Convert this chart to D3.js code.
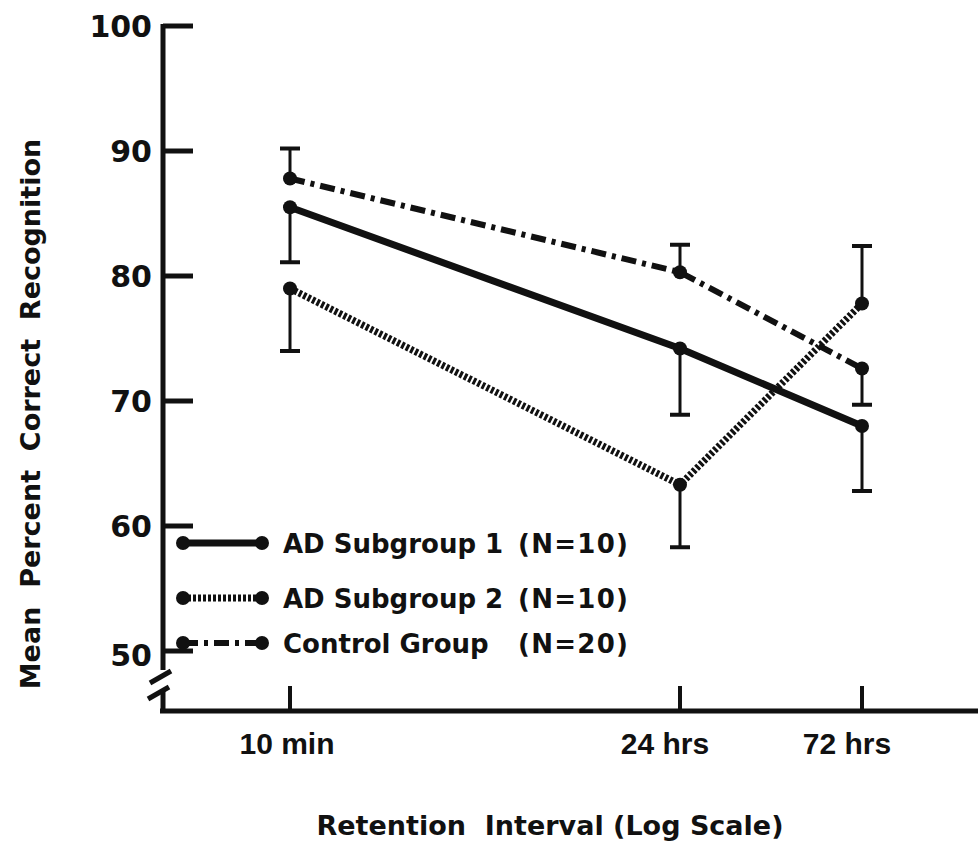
<!DOCTYPE html>
<html>
<head>
<meta charset="utf-8">
<script src="https://cdn.jsdelivr.net/npm/d3@7"></script>
<style>
  html, body { margin: 0; padding: 0; background: #fff; }
  svg { display: block; }
  text { fill: #111; }
</style>
</head>
<body>
<div id="chart"></div>
<script>
// Retention intervals (x axis, drawn on a stretched log scale)
const intervalLabels = ['10 min', '24 hrs', '72 hrs'];
const intervalMinutes = [10, 1440, 4320];

// Y axis ticks
const yTicks = [50, 60, 70, 80, 90, 100];

// Group means (percent correct) and one-sided error bars (+ up / - down)
const subgroup1Means = [85.5, 74.2, 68.0];
const subgroup1Err = [-4.4, -5.3, -5.2];
const subgroup2Means = [79.0, 63.3, 77.8];
const subgroup2Err = [-5.0, -5.0, 4.6];
const controlMeans = [87.8, 80.3, 72.6];
const controlErr = [2.4, 2.2, -2.9];

// Legend labels
const groupNames = ['AD Subgroup 1', 'AD Subgroup 2', 'Control Group'];
const groupSizes = ['(N=10)', '(N=10)', '(N=20)'];

const W = 978, H = 853;
const INK = '#111';

const series = [
  { name: groupNames[0], n: groupSizes[0], means: subgroup1Means, err: subgroup1Err, dash: null, width: 7 },
  { name: groupNames[1], n: groupSizes[1], means: subgroup2Means, err: subgroup2Err, dash: '3,2', width: 7 },
  { name: groupNames[2], n: groupSizes[2], means: controlMeans, err: controlErr, dash: '15,6,4,6', width: 6 }
];

const svg = d3.select('#chart').append('svg')
  .attr('width', W)
  .attr('height', H);

const x = d3.scaleLog()
  .domain(intervalMinutes)
  .range([290, 680, 862]);

const y = d3.scaleLinear()
  .domain([50, 100])
  .range([651, 26]);

const axisX0 = 163;   // y axis position
const axisY0 = 711;   // x axis position

// --- Y axis with break ---
svg.append('line')
  .attr('x1', axisX0).attr('x2', axisX0)
  .attr('y1', y(100) - 2).attr('y2', 670)
  .attr('stroke', INK).attr('stroke-width', 5);
svg.append('line')
  .attr('x1', axisX0).attr('x2', axisX0)
  .attr('y1', 690).attr('y2', axisY0)
  .attr('stroke', INK).attr('stroke-width', 5);
// break slashes
[[150, 683, 171, 671], [148, 699, 169, 687]].forEach(s => {
  svg.append('line')
    .attr('x1', s[0]).attr('y1', s[1]).attr('x2', s[2]).attr('y2', s[3])
    .attr('stroke', INK).attr('stroke-width', 5);
});

svg.append('g').selectAll('line')
  .data(yTicks)
  .enter().append('line')
  .attr('x1', axisX0).attr('x2', axisX0 + 30)
  .attr('y1', d => y(d)).attr('y2', d => y(d))
  .attr('stroke', INK).attr('stroke-width', 5);

svg.append('g').selectAll('text')
  .data(yTicks)
  .enter().append('text')
  .attr('x', 152)
  .attr('y', d => y(d) + 11 + (d === 50 ? 4 : 0))
  .attr('text-anchor', 'end')
  .attr('font-family', 'DejaVu Sans')
  .attr('font-weight', 'bold')
  .attr('font-size', 30)
  .text(d => d);

// --- X axis ---
svg.append('line')
  .attr('x1', axisX0 - 3).attr('x2', W)
  .attr('y1', axisY0).attr('y2', axisY0)
  .attr('stroke', INK).attr('stroke-width', 5);

svg.append('g').selectAll('line')
  .data(intervalMinutes)
  .enter().append('line')
  .attr('x1', d => x(d)).attr('x2', d => x(d))
  .attr('y1', axisY0).attr('y2', 686)
  .attr('stroke', INK).attr('stroke-width', 4);

svg.append('g').selectAll('text')
  .data(intervalMinutes)
  .enter().append('text')
  .attr('x', (d, i) => x(d) + (i === 0 ? -3 : -15))
  .attr('y', 754)
  .attr('text-anchor', 'middle')
  .attr('font-family', 'Liberation Sans, Arial, sans-serif')
  .attr('font-weight', 'bold')
  .attr('font-size', 30)
  .text((d, i) => intervalLabels[i]);

// --- Axis titles ---
svg.append('text')
  .attr('x', 550)
  .attr('y', 835)
  .attr('text-anchor', 'middle')
  .attr('font-family', 'DejaVu Sans')
  .attr('font-weight', 'bold')
  .attr('font-size', 27)
  .style('white-space', 'pre')
  .text('Retention  Interval (Log Scale)');

svg.append('text')
  .attr('transform', 'translate(40,414) rotate(-90)')
  .attr('text-anchor', 'middle')
  .attr('font-family', 'DejaVu Sans')
  .attr('font-weight', 'bold')
  .attr('font-size', 27)
  .style('white-space', 'pre')
  .text('Mean  Percent  Correct  Recognition');

// --- Series ---
const line = d3.line()
  .x((d, i) => x(intervalMinutes[i]))
  .y(d => y(d));

series.forEach(s => {
  const g = svg.append('g');

  // error bars
  s.means.forEach((m, i) => {
    const cx = x(intervalMinutes[i]);
    const yEnd = y(m + s.err[i]);
    g.append('line')
      .attr('x1', cx).attr('x2', cx)
      .attr('y1', y(m)).attr('y2', yEnd)
      .attr('stroke', INK).attr('stroke-width', 3);
    g.append('line')
      .attr('x1', cx - 10).attr('x2', cx + 10)
      .attr('y1', yEnd).attr('y2', yEnd)
      .attr('stroke', INK).attr('stroke-width', 4);
  });

  g.append('path')
    .datum(s.means)
    .attr('d', line)
    .attr('fill', 'none')
    .attr('stroke', INK)
    .attr('stroke-width', s.width)
    .attr('stroke-dasharray', s.dash)
    .attr('stroke-linecap', 'butt');

  g.selectAll('circle')
    .data(s.means)
    .enter().append('circle')
    .attr('cx', (d, i) => x(intervalMinutes[i]))
    .attr('cy', d => y(d))
    .attr('r', 7)
    .attr('fill', INK);
});

// --- Legend ---
const legendRows = [543, 598, 643];
series.forEach((s, i) => {
  const ly = legendRows[i];
  const g = svg.append('g');
  g.append('line')
    .attr('x1', 183).attr('x2', 262)
    .attr('y1', ly).attr('y2', ly)
    .attr('stroke', INK)
    .attr('stroke-width', s.width)
    .attr('stroke-dasharray', s.dash);
  [183, 262].forEach(cx => {
    g.append('circle')
      .attr('cx', cx).attr('cy', ly).attr('r', 7).attr('fill', INK);
  });
  g.append('text')
    .attr('x', 283).attr('y', ly + 10)
    .attr('font-family', 'DejaVu Sans')
    .attr('font-weight', 'bold')
    .attr('font-size', 26)
    .text(s.name);
  g.append('text')
    .attr('x', 518).attr('y', ly + 10)
    .attr('font-family', 'DejaVu Sans')
    .attr('font-weight', 'bold')
    .attr('font-size', 26)
    .attr('textLength', 110)
    .attr('lengthAdjust', 'spacing')
    .text(s.n);
});
</script>
</body>
</html>
